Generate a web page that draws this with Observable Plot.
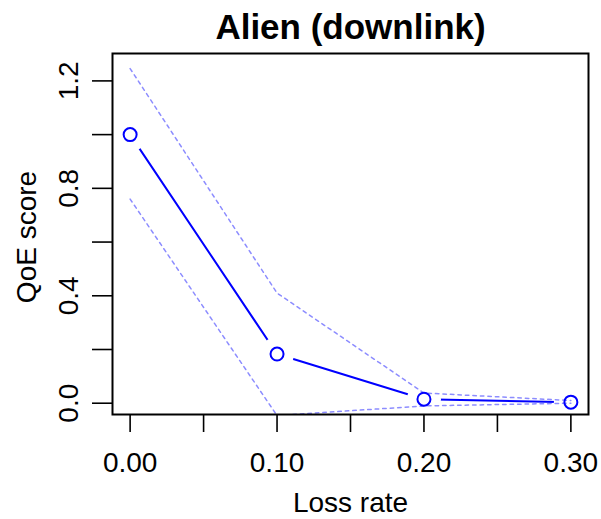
<!DOCTYPE html>
<html>
<head>
<meta charset="utf-8">
<script src="https://cdn.jsdelivr.net/npm/d3@7"></script>
<script src="https://cdn.jsdelivr.net/npm/@observablehq/plot@0.6"></script>
<style>
  html, body { margin: 0; padding: 0; background: #fff; }
  #chart { width: 601px; height: 519px; }
</style>
</head>
<body>
<div id="chart"></div>
<script>
// ---- data ----
const lossRate = [0, 0.1, 0.2, 0.3];
const qoeMean  = [1.0, 0.183, 0.015, 0.004];
const qoeUpper = [1.246, 0.41, 0.038, 0.01];
const qoeLower = [0.76, -0.046, -0.01, 0.0];

const xTicks = [0, 0.05, 0.1, 0.15, 0.2, 0.25, 0.3];
const xTickLabels = ["0.00", "", "0.10", "", "0.20", "", "0.30"];
const yTicks = [0, 0.2, 0.4, 0.6, 0.8, 1.0, 1.2];
const yTickLabels = ["0.0", "", "0.4", "", "0.8", "", "1.2"];

const titleText = "Alien (downlink)";
const xLabel = "Loss rate";
const yLabel = "QoE score";

// ---- tables built from the arrays ----
const meanData  = lossRate.map((x, i) => ({x, y: qoeMean[i]}));
const upperData = lossRate.map((x, i) => ({x, y: qoeUpper[i]}));
const lowerData = lossRate.map((x, i) => ({x, y: qoeLower[i]}));

const FONT = "'Liberation Sans', Arial, Helvetica, sans-serif";
const BLUE = "#0000ff";
const ciStyle = {x: "x", y: "y", stroke: BLUE, strokeOpacity: 0.45, strokeWidth: 1.5, strokeDasharray: "3.5,4", clip: true};

const chart = Plot.plot({
  width: 601,
  height: 519,
  marginLeft: 112,
  marginRight: 13,
  marginTop: 53,
  marginBottom: 105,
  style: {fontFamily: FONT, background: "#fff", color: "#000", overflow: "visible"},
  x: {domain: [-0.012, 0.312]},
  y: {domain: [-0.042, 1.302]},
  marks: [
    // mean line (R type = "b": segments with gaps around points)
    Plot.line(meanData, {x: "x", y: "y", stroke: BLUE, strokeWidth: 2}),
    Plot.dot(meanData, {x: "x", y: "y", r: 17, fill: "#fff", stroke: "none"}),
    // confidence bounds (dashed)
    Plot.line(upperData, ciStyle),
    Plot.line(lowerData, ciStyle),
    // open circles
    Plot.dot(meanData, {x: "x", y: "y", r: 6.5, stroke: BLUE, strokeWidth: 2, fill: "none"}),
    // axes
    Plot.axisX({
      ticks: xTicks, tickSize: 18, tickPadding: 20, strokeWidth: 1.6,
      tickFormat: (d) => xTickLabels[xTicks.indexOf(d)],
      fontSize: 28, fill: "#000", label: null
    }),
    Plot.axisY({
      ticks: yTicks, tickSize: 20, tickPadding: 15, strokeWidth: 1.6,
      tickRotate: -90, textAnchor: "middle", lineAnchor: "bottom",
      tickFormat: (d) => yTickLabels[yTicks.findIndex((t) => Math.abs(t - d) < 1e-9)],
      fontSize: 28, fill: "#000", label: null
    }),
    Plot.frame({stroke: "#000", strokeWidth: 2}),
    // title and axis labels
    Plot.text([titleText], {frameAnchor: "top", dy: -14.7, lineAnchor: "bottom", textAnchor: "middle",
      fontSize: 35, fontWeight: "bold", fill: "#000"}),
    Plot.text([xLabel], {frameAnchor: "bottom", dy: 97.5, lineAnchor: "bottom", textAnchor: "middle",
      fontSize: 28, fill: "#000"}),
    Plot.text([yLabel], {frameAnchor: "left", dx: -77, dy: 3, rotate: -90, lineAnchor: "bottom", textAnchor: "middle",
      fontSize: 28, fill: "#000"})
  ]
});
document.getElementById("chart").appendChild(chart);
</script>
</body>
</html>
